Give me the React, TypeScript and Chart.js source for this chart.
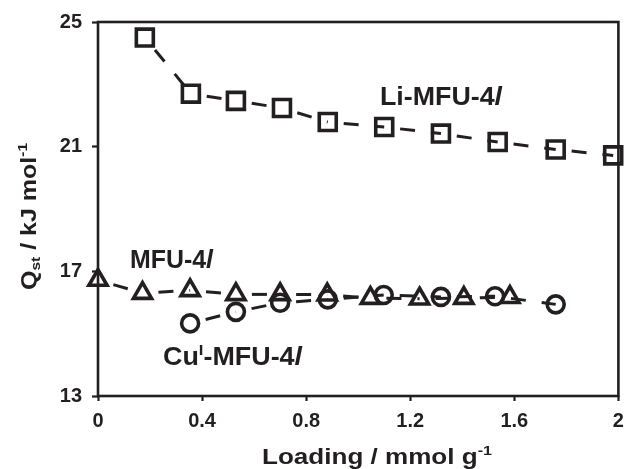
import React, { useEffect, useRef } from "react";
import { Chart, registerables } from "chart.js";

Chart.register(...registerables);

const liX = [0.18, 0.357, 0.53, 0.707, 0.883, 1.10, 1.318, 1.536, 1.759, 1.98];
const liY = [24.5, 22.7, 22.47, 22.24, 21.79, 21.63, 21.42, 21.15, 20.91, 20.72];

const mfuX = [0, 0.171, 0.354, 0.53, 0.70, 0.881, 1.047, 1.236, 1.406, 1.583];
const mfuY = [16.72, 16.3, 16.39, 16.26, 16.26, 16.25, 16.14, 16.12, 16.14, 16.17];

const cuX = [0.354, 0.53, 0.70, 0.883, 1.098, 1.318, 1.526, 1.759];
const cuY = [15.33, 15.7, 15.99, 16.1, 16.24, 16.18, 16.2, 15.94];

const xTickValues = [0, 0.4, 0.8, 1.2, 1.6, 2];
const xTickLabels = ["0", "0.4", "0.8", "1.2", "1.6", "2"];
const yTickValues = [13, 17, 21, 25];
const yTickLabels = ["13", "17", "21", "25"];

const FONT = "'Liberation Sans', Arial, sans-serif";
const TEXT = "#231f20";

type Part = { t: string; k?: "sup" | "sub" | "it" };

function fontFor(size: number, k?: string) {
  const s = k === "sup" || k === "sub" ? size * 0.62 : size;
  return `${k === "it" ? "italic " : ""}bold ${s}px ${FONT}`;
}

function richWidth(ctx: CanvasRenderingContext2D, parts: Part[], size: number) {
  let w = 0;
  for (const p of parts) {
    ctx.font = fontFor(size, p.k);
    w += ctx.measureText(p.t).width;
  }
  return w;
}

// draws rich text starting at local (0, 0) baseline, stretched horizontally to targetWidth
function drawRich(ctx: CanvasRenderingContext2D, parts: Part[], size: number, targetWidth: number) {
  const w = richWidth(ctx, parts, size);
  const sx = targetWidth / w;
  ctx.save();
  ctx.scale(sx, 1);
  let cx = 0;
  ctx.textBaseline = "alphabetic";
  ctx.textAlign = "left";
  for (const p of parts) {
    ctx.font = fontFor(size, p.k);
    let dy = 0;
    if (p.k === "sup") dy = -size * 0.4;
    if (p.k === "sub") dy = size * 0.2;
    ctx.fillText(p.t, cx, dy);
    cx += ctx.measureText(p.t).width;
  }
  ctx.restore();
}

function textAt(ctx: CanvasRenderingContext2D, parts: Part[], size: number, width: number, x: number, y: number, rot = 0) {
  ctx.save();
  ctx.translate(x, y);
  if (rot) ctx.rotate(rot);
  drawRich(ctx, parts, size, width);
  ctx.restore();
}

const overlay = {
  id: "overlay",
  afterDraw(chart: any) {
    const ctx: CanvasRenderingContext2D = chart.ctx;
    const a = chart.chartArea;
    ctx.save();
    ctx.strokeStyle = "#231f20";
    ctx.lineWidth = 2.6;
    ctx.strokeRect(a.left, a.top, a.right - a.left, a.bottom - a.top);
    ctx.fillStyle = TEXT;

    // x title
    textAt(ctx, [{ t: "Loading / mmol g" }, { t: "-1", k: "sup" }], 22, 230, 262, 464);
    // y title (rotated, reads bottom to top)
    textAt(ctx, [{ t: "Q" }, { t: "st", k: "sub" }, { t: " / kJ mol" }, { t: "-1", k: "sup" }], 22, 147, 36, 290, -Math.PI / 2);

    // annotations
    textAt(ctx, [{ t: "Li-MFU-4" }, { t: "l", k: "it" }], 25, 122, 380, 105);
    textAt(ctx, [{ t: "MFU-4" }, { t: "l", k: "it" }], 25, 83, 130, 268);
    textAt(ctx, [{ t: "Cu" }, { t: "I", k: "sup" }, { t: "-MFU-4" }, { t: "l", k: "it" }], 25, 139, 163, 365);
    ctx.restore();
  },
};

function series(xs: number[], ys: number[], style: string, radius: number) {
  return {
    data: xs.map((x, i) => ({ x, y: ys[i] })),
    showLine: true,
    borderColor: "#231f20",
    borderWidth: 3,
    borderDash: [15, 16],
    borderDashOffset: 15,
    segment: {
      borderDashOffset: (c: any) => 15 + (c.p0DataIndex % 2) * 0.001,
    },
    pointStyle: style,
    pointRadius: radius,
    pointHoverRadius: radius,
    pointBorderWidth: 3.6,
    pointBorderColor: "#231f20",
    pointBackgroundColor: "rgba(0,0,0,0)",
    clip: false,
    tension: 0,
  };
}

export default function App() {
  const ref = useRef<HTMLCanvasElement>(null);
  useEffect(() => {
    const chart = new Chart(ref.current!, {
      type: "scatter",
      data: {
        datasets: [
          series(liX, liY, "rect", 12),
          series(mfuX, mfuY, "triangle", 10.5),
          series(cuX, cuY, "circle", 8.5),
        ] as any,
      },
      options: {
        animation: false,
        responsive: false,
        events: [],
        layout: { padding: { left: 0, top: 22, right: 8, bottom: 0 } },
        plugins: { legend: { display: false }, tooltip: { enabled: false } },
        scales: {
          x: {
            type: "linear",
            min: 0,
            max: 2,
            afterBuildTicks: (s: any) => {
              s.ticks = xTickValues.map((v) => ({ value: v }));
            },
            afterFit: (s: any) => {
              s.height = 73;
            },
            border: { display: false },
            grid: { drawOnChartArea: false, drawTicks: true, tickLength: 5, tickColor: "#231f20", tickWidth: 2.2, color: "#231f20" },
            ticks: {
              padding: 8,
              color: TEXT,
              maxRotation: 0,
              font: { family: FONT, size: 20, weight: "bold" },
              callback: (_v: any, i: number) => xTickLabels[i],
            },
          },
          y: {
            type: "linear",
            min: 13,
            max: 25,
            afterBuildTicks: (s: any) => {
              s.ticks = yTickValues.map((v) => ({ value: v }));
            },
            afterFit: (s: any) => {
              s.width = 98;
            },
            border: { display: false },
            grid: { drawOnChartArea: false, drawTicks: true, tickLength: 6, tickColor: "#231f20", tickWidth: 2.2, color: "#231f20" },
            ticks: {
              padding: 10,
              color: TEXT,
              font: { family: FONT, size: 20, weight: "bold" },
              callback: (_v: any, i: number) => yTickLabels[i],
            },
          },
        },
      } as any,
      plugins: [overlay],
    });
    return () => chart.destroy();
  }, []);
  return (
    <div style={{ position: "fixed", left: 0, top: 0, width: 634, height: 469, background: "#fff" }}>
      <canvas ref={ref} width={634} height={469} style={{ display: "block" }} />
    </div>
  );
}
